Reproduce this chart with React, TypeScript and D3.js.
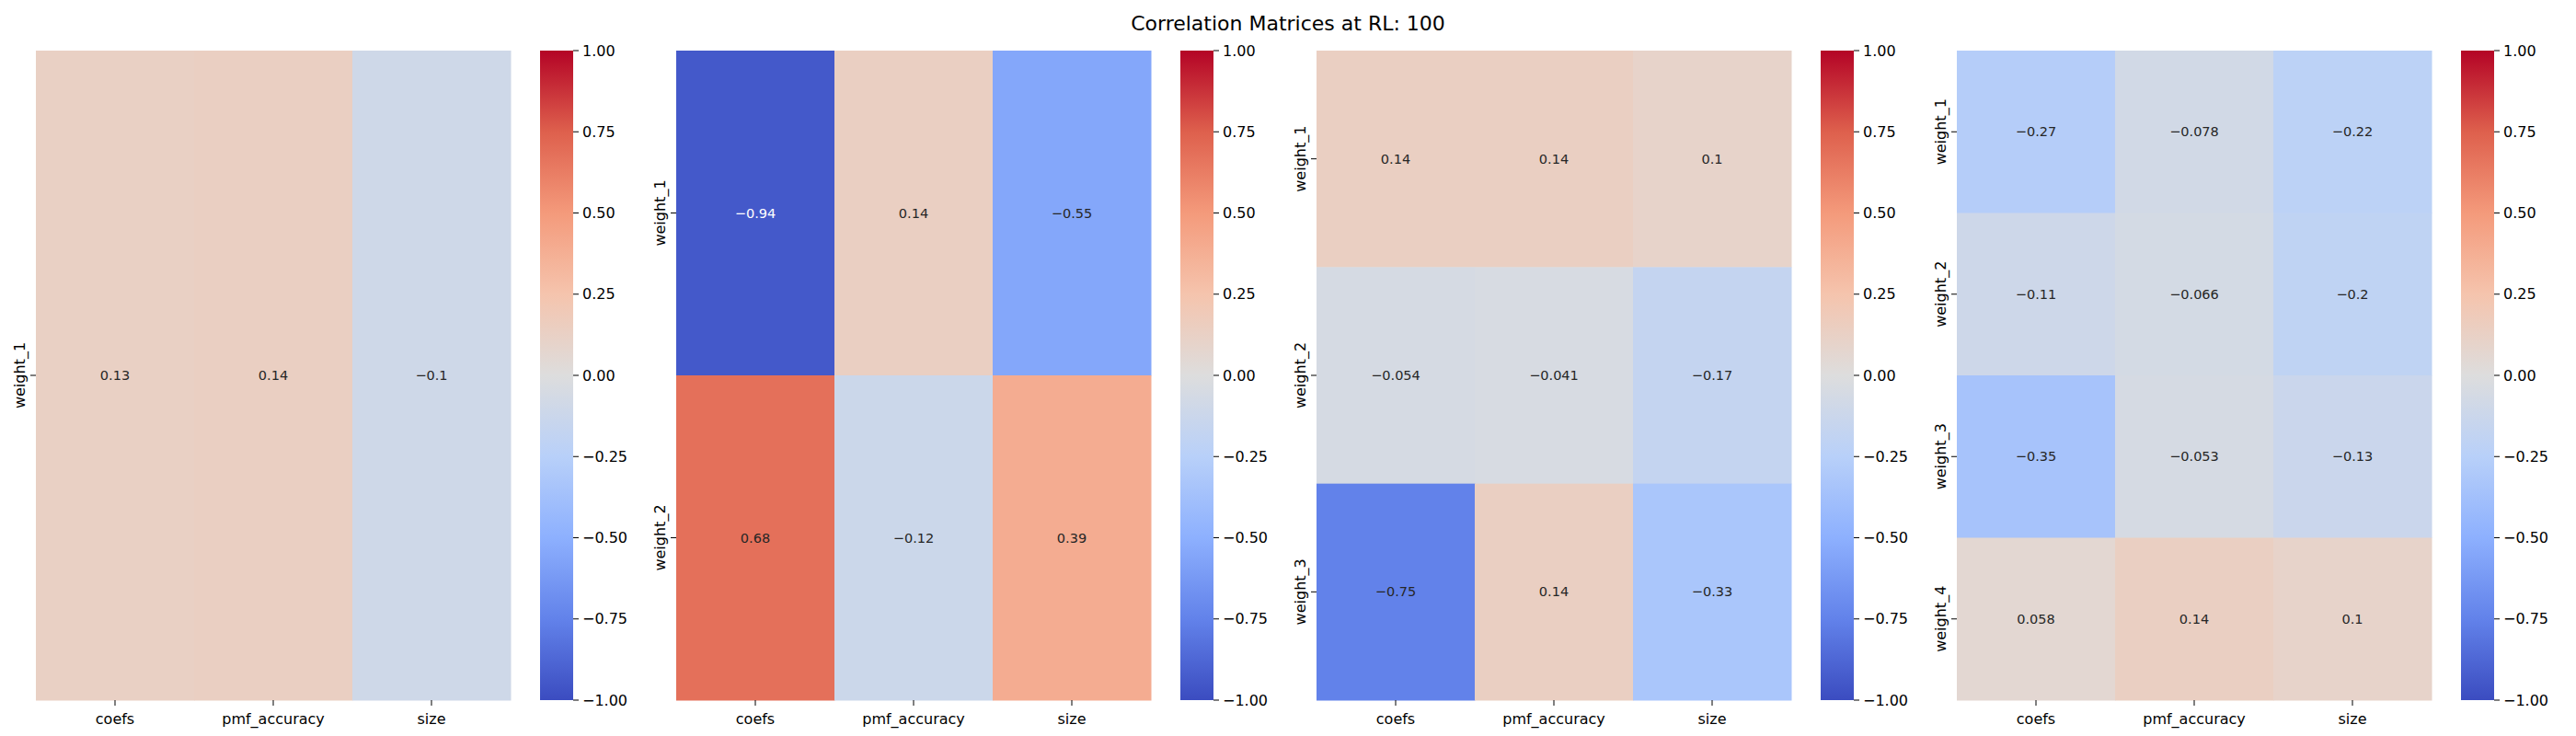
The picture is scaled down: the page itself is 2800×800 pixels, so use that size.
import React from 'react';
import * as d3 from 'd3';

const columns = ['coefs', 'pmf_accuracy', 'size'];
const panelRows = [
  ['weight_1'],
  ['weight_1', 'weight_2'],
  ['weight_1', 'weight_2', 'weight_3'],
  ['weight_1', 'weight_2', 'weight_3', 'weight_4'],
];
const panelValues = [
  [[0.13, 0.14, -0.1]],
  [[-0.94, 0.14, -0.55], [0.68, -0.12, 0.39]],
  [[0.14, 0.14, 0.1], [-0.054, -0.041, -0.17], [-0.75, 0.14, -0.33]],
  [[-0.27, -0.078, -0.22], [-0.11, -0.066, -0.2], [-0.35, -0.053, -0.13], [0.058, 0.14, 0.1]],
];
const cbTicks = [1, 0.75, 0.5, 0.25, 0, -0.25, -0.5, -0.75, -1];

// coolwarm anchors
const cw = ['#3b4cc0', '#6282ea', '#8db0fe', '#b8d0f9', '#dddddd', '#f5c4ad', '#f49a7b', '#de604d', '#b40426'];
const color = d3.scaleLinear<string>()
  .domain(d3.range(9).map(i => -1 + i * 0.25))
  .range(cw)
  .interpolate(d3.interpolateRgb);

const fmt = (v: number) => (v < 0 ? '\u2212' : '') + Math.abs(v).toFixed(2);
const textColor = (v: number) => {
  const c = d3.rgb(color(v));
  const lum = (0.2126 * c.r + 0.7152 * c.g + 0.0722 * c.b) / 255;
  return lum < 0.45 ? '#fff' : '#262626';
};

const W = 2800, H = 800;
const top = 55, bottom = 761;
const hmW = 516, pitch = 696, left0 = 39;
const cbOff = 548, cbW = 36;
const font = 'DejaVu Sans, sans-serif';

export default function App() {
  const y = d3.scaleLinear().domain([-1, 1]).range([bottom, top]);
  return (
    <svg width={W} height={H} style={{ display: 'block', margin: -8 }} fontFamily={font}>
      <rect width={W} height={H} fill="#fff" />
      <text x={1400} y={33} textAnchor="middle" fontSize={22}>Correlation Matrices at RL: 100</text>
      <defs>
        <linearGradient id="cw" x1="0" y1="1" x2="0" y2="0">
          {cw.map((c, i) => <stop key={i} offset={i / 8} stopColor={c} />)}
        </linearGradient>
      </defs>
      {panelValues.map((vals, p) => {
        const left = left0 + p * pitch;
        const xs = d3.scaleBand().domain(columns).range([left, left + hmW]);
        const ys = d3.scaleBand().domain(panelRows[p]).range([top, bottom]);
        const cbX = left + cbOff;
        return (
          <g key={p}>
            {vals.map((row, r) => row.map((v, c) => {
              const x0 = xs(columns[c])!, y0 = ys(panelRows[p][r])!;
              return (
                <g key={`${r}-${c}`}>
                  <rect x={x0} y={y0} width={xs.bandwidth() + 0.5} height={ys.bandwidth() + 0.5} fill={color(v)} />
                  <text x={x0 + xs.bandwidth() / 2} y={y0 + ys.bandwidth() / 2} dy="0.35em" textAnchor="middle" fontSize={14.5} fill={textColor(v)}>
                    {(v < 0 ? '\u2212' : '') + String(Math.abs(v))}
                  </text>
                </g>
              );
            }))}
            {columns.map(c => {
              const cx = xs(c)! + xs.bandwidth() / 2;
              return (
                <g key={c}>
                  <line x1={cx} x2={cx} y1={bottom} y2={bottom + 6} stroke="#000" />
                  <text x={cx} y={bottom + 26} textAnchor="middle" fontSize={16}>{c}</text>
                </g>
              );
            })}
            {panelRows[p].map(rn => {
              const cy = ys(rn)! + ys.bandwidth() / 2;
              return (
                <g key={rn}>
                  <line x1={left - 6} x2={left} y1={cy} y2={cy} stroke="#000" />
                  <text transform={`translate(${left - 12},${cy}) rotate(-90)`} textAnchor="middle" fontSize={16}>{rn}</text>
                </g>
              );
            })}
            <rect x={cbX} y={top} width={cbW} height={bottom - top} fill="url(#cw)" />
            {cbTicks.map(t => (
              <g key={t}>
                <line x1={cbX + cbW} x2={cbX + cbW + 6} y1={y(t)} y2={y(t)} stroke="#000" />
                <text x={cbX + cbW + 10} y={y(t)} dy="0.35em" fontSize={16}>{fmt(t)}</text>
              </g>
            ))}
          </g>
        );
      })}
    </svg>
  );
}
